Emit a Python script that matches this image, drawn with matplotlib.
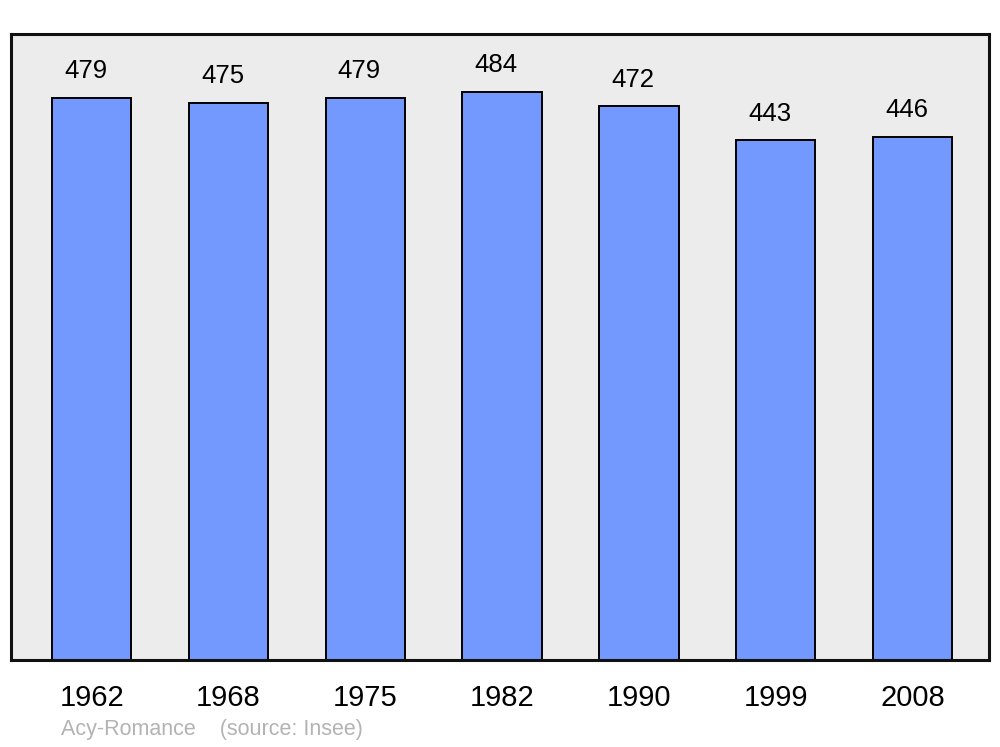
import numpy as np
import matplotlib.pyplot as plt

plt.rcParams['font.family'] = ['Liberation Sans', 'DejaVu Sans']

years = ['1962', '1968', '1975', '1982', '1990', '1999', '2008']
population = [479, 475, 479, 484, 472, 443, 446]
source_text = 'Acy-Romance    (source: Insee)'

fig = plt.figure(figsize=(10, 7.47), dpi=100)
ax = fig.add_axes([0.011, 0.1165, 0.978, 0.838])
ax.set_facecolor('#ececec')

x = np.arange(len(years))
bars = ax.bar(x, population, width=0.58, color='#7399ff', edgecolor='black', linewidth=1.4, zorder=2)

for xi, v in zip(x, population):
    ax.annotate(str(v), (xi, v), xytext=(-4.3, 10.5), textcoords='offset points',
                ha='center', va='bottom', fontsize=18.5, color='black')

ax.set_xlim(-0.59, 6.56)
ax.set_ylim(0, 533.5)
ax.set_xticks(x)
ax.set_xticklabels(years, fontsize=21)
ax.tick_params(axis='x', length=0, pad=17)
ax.set_yticks([])
for s in ax.spines.values():
    s.set_linewidth(2.2)
    s.set_color('#111111')

fig.text(0.061, 0.023, source_text, fontsize=15.5, color='#b3b3b3', ha='left', va='center')

fig.savefig('out.png', dpi=100)
